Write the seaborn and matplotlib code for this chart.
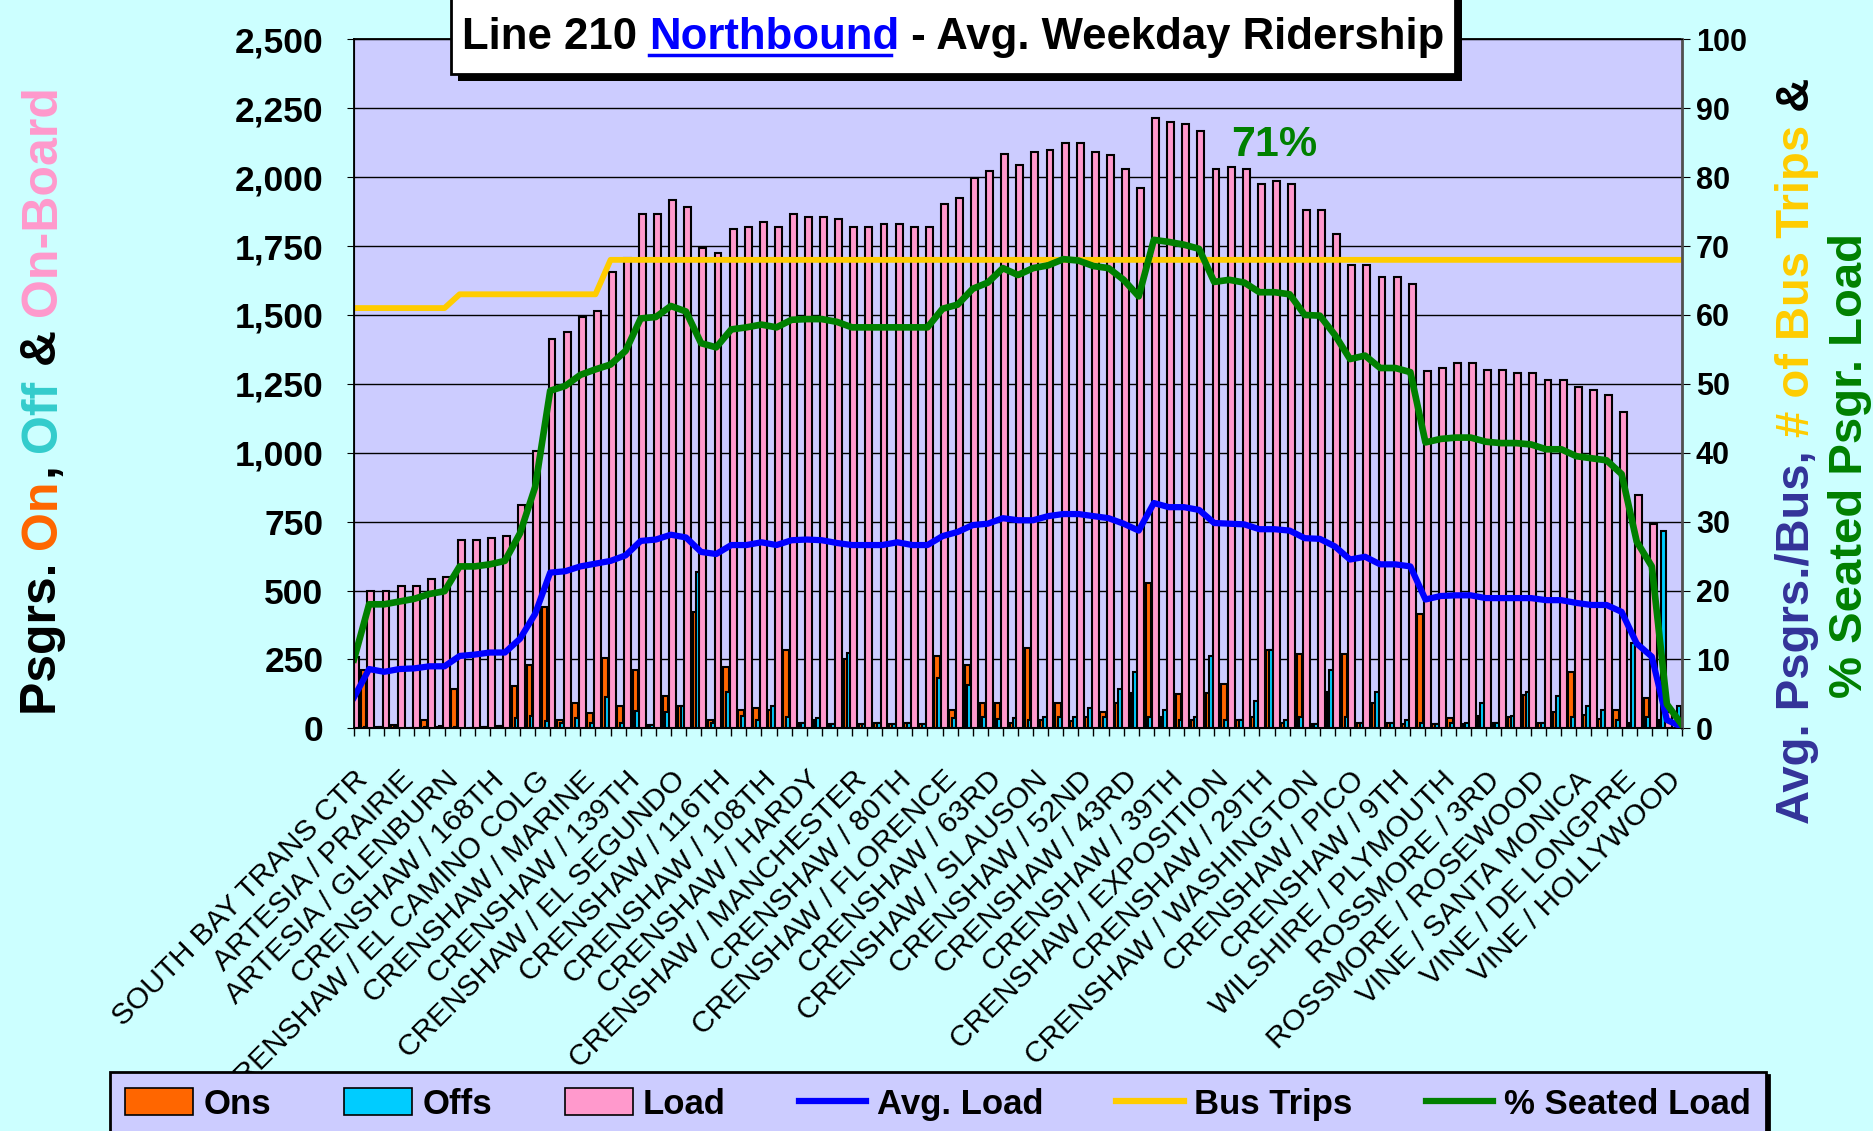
import numpy as np
import matplotlib
matplotlib.use("Agg")
import matplotlib.pyplot as plt
import seaborn as sns
from matplotlib.patches import Patch, Rectangle
from matplotlib.lines import Line2D

plt.rcParams['font.family'] = ['Liberation Sans', 'DejaVu Sans']

# ---- data (89 stops, every 3rd stop labelled) ----
stop_labels = ["SOUTH BAY TRANS CTR", "ARTESIA / PRAIRIE", "ARTESIA / GLENBURN",
               "CRENSHAW / 168TH", "CRENSHAW / EL CAMINO COLG", "CRENSHAW / MARINE",
               "CRENSHAW / 139TH", "CRENSHAW / EL SEGUNDO", "CRENSHAW / 116TH",
               "CRENSHAW / 108TH", "CRENSHAW / HARDY", "CRENSHAW / MANCHESTER",
               "CRENSHAW / 80TH", "CRENSHAW / FLORENCE", "CRENSHAW / 63RD",
               "CRENSHAW / SLAUSON", "CRENSHAW / 52ND", "CRENSHAW / 43RD",
               "CRENSHAW / 39TH", "CRENSHAW / EXPOSITION", "CRENSHAW / 29TH",
               "CRENSHAW / WASHINGTON", "CRENSHAW / PICO", "CRENSHAW / 9TH",
               "WILSHIRE / PLYMOUTH", "ROSSMORE / 3RD", "ROSSMORE / ROSEWOOD",
               "VINE / SANTA MONICA", "VINE / DE LONGPRE", "VINE / HOLLYWOOD"]

ons = [260, 213, 5, 13, 0, 30, 5, 141, 0, 5,
       10, 152, 230, 440, 30, 92, 57, 254, 82, 212,
       13, 116, 82, 423, 30, 221, 66, 75, 67, 284,
       20, 30, 15, 251, 15, 20, 15, 20, 15, 264,
       66, 230, 92, 92, 20, 292, 30, 92, 25, 40,
       60, 90, 128, 526, 40, 125, 30, 128, 161, 30,
       40, 284, 20, 270, 15, 130, 270, 20, 90, 20,
       15, 415, 15, 38, 15, 45, 20, 40, 120, 20,
       60, 205, 50, 35, 66, 20, 110, 30, 0]

offs = [0, 5, 5, 5, 0, 5, 10, 5, 0, 5,
        10, 38, 46, 26, 20, 38, 20, 115, 19, 61,
        11, 60, 82, 568, 20, 133, 46, 30, 82, 40,
        20, 38, 15, 272, 15, 20, 15, 20, 15, 182,
        38, 157, 40, 34, 38, 30, 40, 40, 40, 75,
        40, 141, 205, 40, 66, 30, 40, 264, 30, 30,
        100, 284, 30, 40, 15, 213, 40, 20, 133, 20,
        30, 20, 15, 20, 20, 92, 20, 46, 133, 20,
        116, 40, 82, 66, 30, 310, 40, 715, 82]

load = [260, 497, 497, 516, 516, 543, 549, 682, 682, 690,
        698, 811, 1005, 1411, 1439, 1493, 1516, 1656, 1706, 1866,
        1866, 1918, 1890, 1743, 1726, 1813, 1821, 1838, 1821, 1866,
        1857, 1857, 1849, 1821, 1821, 1829, 1829, 1821, 1821, 1902,
        1926, 1997, 2021, 2083, 2046, 2090, 2098, 2125, 2125, 2090,
        2082, 2029, 1959, 2213, 2202, 2193, 2169, 2029, 2037, 2029,
        1975, 1985, 1975, 1882, 1882, 1792, 1680, 1680, 1636, 1636,
        1611, 1297, 1308, 1324, 1325, 1300, 1300, 1288, 1288, 1264,
        1264, 1238, 1229, 1210, 1149, 846, 743, 60, 0]

avg_load = [4.5, 8.6, 8.2, 8.6, 8.7, 9.0, 9.0, 10.5, 10.7, 11.0,
            11.0, 13.0, 16.6, 22.6, 22.8, 23.5, 23.9, 24.3, 25.1, 27.2,
            27.4, 28.1, 27.7, 25.6, 25.3, 26.6, 26.6, 27.0, 26.6, 27.3,
            27.4, 27.3, 26.9, 26.6, 26.6, 26.6, 27.0, 26.6, 26.6, 27.9,
            28.5, 29.5, 29.7, 30.5, 30.2, 30.2, 30.8, 31.1, 31.1, 30.8,
            30.5, 29.7, 28.7, 32.7, 32.1, 32.1, 31.7, 29.8, 29.7, 29.6,
            28.9, 28.9, 28.7, 27.6, 27.5, 26.4, 24.5, 24.9, 23.8, 23.8,
            23.5, 18.7, 19.2, 19.3, 19.3, 18.9, 18.9, 18.9, 18.9, 18.6,
            18.6, 18.2, 17.9, 17.9, 16.9, 12.3, 10.4, 1.2, 0.2]

bus_trips = [61, 61, 61, 61, 61, 61, 61, 63, 63, 63,
             63, 63, 63, 63, 63, 63, 63, 68, 68, 68,
             68, 68, 68, 68, 68, 68, 68, 68, 68, 68,
             68, 68, 68, 68, 68, 68, 68, 68, 68, 68,
             68, 68, 68, 68, 68, 68, 68, 68, 68, 68,
             68, 68, 68, 68, 68, 68, 68, 68, 68, 68,
             68, 68, 68, 68, 68, 68, 68, 68, 68, 68,
             68, 68, 68, 68, 68, 68, 68, 68, 68, 68,
             68, 68, 68, 68, 68, 68, 68, 68, 68]

seated_pct = [10.0, 18.0, 18.0, 18.4, 18.8, 19.5, 19.9, 23.5, 23.5, 23.8,
              24.3, 28.3, 35.0, 49.0, 49.7, 51.3, 52.1, 52.8, 54.8, 59.5,
              59.7, 61.3, 60.5, 55.9, 55.3, 57.9, 58.2, 58.6, 58.2, 59.3,
              59.4, 59.4, 59.0, 58.2, 58.2, 58.2, 58.2, 58.2, 58.2, 60.9,
              61.5, 63.8, 64.7, 66.8, 65.8, 66.8, 67.2, 68.1, 67.9, 67.1,
              66.8, 65.1, 62.7, 70.9, 70.6, 70.2, 69.6, 64.8, 65.1, 64.7,
              63.3, 63.3, 63.0, 60.0, 59.9, 57.1, 53.6, 54.1, 52.3, 52.3,
              51.7, 41.5, 42.0, 42.2, 42.2, 41.6, 41.4, 41.4, 41.2, 40.5,
              40.5, 39.5, 39.2, 38.9, 36.9, 27.1, 23.5, 3.5, 0.5]

ORANGE, CYAN, PINK = '#FF6600', '#00CCFF', '#FF99CC'
BLUE, GOLD, GREEN = '#0000FF', '#FFCC00', '#008000'

W, H = 1873, 1131
fig = plt.figure(figsize=(W / 100, H / 100), dpi=100, facecolor='#CCFFFF')
ax = fig.add_axes([354 / W, 1 - 728.3 / H, (1682 - 354) / W, (728.3 - 39.4) / H])
ax.set_facecolor('#CCCCFF')
ax.set_axisbelow(True)
ax.yaxis.grid(True, color='black', lw=1)

stops = np.arange(len(load))

# clustered bars: ons / offs overlap, load right next to them
sns.barplot(x=stops - 0.36, y=ons, native_scale=True, width=0.36, color=ORANGE,
            saturation=1, edgecolor='black', linewidth=1.5, errorbar=None, orient='x', ax=ax)
sns.barplot(x=stops - 0.22, y=offs, native_scale=True, width=0.28, color=CYAN,
            saturation=1, edgecolor='black', linewidth=1.5, errorbar=None, orient='x', ax=ax)
sns.barplot(x=stops + 0.12, y=load, native_scale=True, width=0.46, color=PINK,
            saturation=1, edgecolor='black', linewidth=1.5, errorbar=None, orient='x', ax=ax)

ax.set_xlim(0, len(load) - 1)
ax.set_ylim(0, 2500)
yv = np.arange(0, 2501, 250)
ax.set_yticks(yv, labels=[f'{v:,}' for v in yv], fontsize=25.5, fontweight='bold')
ax.set_xticks(stops[::3], labels=stop_labels, rotation=45, ha='right', va='top',
              rotation_mode='anchor', fontsize=21.5)
ax.set_xticks(stops, minor=True)
ax.tick_params(axis='x', which='both', length=6, width=1, pad=21)
ax.tick_params(axis='y', length=5, pad=17)
ax.set_xlabel('')
ax.set_ylabel('')
for side in ['left', 'bottom', 'top']:
    ax.spines[side].set_color('black')
    ax.spines[side].set_linewidth(1.3)

ax2 = ax.twinx()
sns.lineplot(x=stops, y=bus_trips, color=GOLD, lw=4.2, errorbar=None, ax=ax2)
sns.lineplot(x=stops, y=avg_load, color=BLUE, lw=4.5, errorbar=None, ax=ax2)
sns.lineplot(x=stops, y=seated_pct, color=GREEN, lw=4.8, errorbar=None, ax=ax2)
for ln in ax2.lines:
    ln.set_solid_joinstyle('round')
ax2.set_ylim(0, 100)
ax2.set_xlim(0, len(load) - 1)
ax2.set_yticks(np.arange(0, 101, 10), labels=[str(v) for v in range(0, 101, 10)],
               fontsize=22, fontweight='bold')
ax2.tick_params(axis='y', length=6, pad=4)
ax2.set_ylabel('')
ax2.spines['right'].set_color('#505050')
ax2.spines['right'].set_linewidth(2)
ax2.text(61, 84.7, '71%', color=GREEN, fontsize=31, fontweight='bold', ha='center', va='center')

# ---- multicolour texts ----
renderer = fig.canvas.get_renderer()


def piece_offsets(pieces, size):
    def ink(s):
        t = fig.text(0, 0, s, fontsize=size, fontweight='bold')
        w = t.get_window_extent(renderer).width
        t.remove()
        return w
    bar = ink('|')
    offsets, pre = [], ''
    for s, c in pieces:
        offsets.append(ink(pre + '|') - bar if pre else 0.0)
        pre += s
    return offsets, ink(pre)


def vertical_label(pieces, x_px, yc_px, size):
    offsets, total = piece_offsets(pieces, size)
    y0 = (H - yc_px) - total / 2
    for (s, c), o in zip(pieces, offsets):
        fig.text(x_px / W, (y0 + o) / H, s, color=c, fontsize=size, fontweight='bold',
                 rotation=90, rotation_mode='anchor', ha='left', va='baseline')


vertical_label([("Psgrs. ", 'black'), ("On", ORANGE), (", ", 'black'), ("Off", '#33CCCC'),
                (" & ", 'black'), ("On-Board", PINK)], 56, 400, 36)
vertical_label([("Avg. Psgrs./Bus, ", '#333399'), ("# of Bus Trips", GOLD), (" &", 'black')],
               1809, 451, 34)
vertical_label([("% Seated Psgr. Load", GREEN)], 1862, 466, 34)

# title box with shadow
fig.add_artist(Rectangle((458 / W, 1 - 81 / H), (1462 - 458) / W, 81 / H + 0.02,
                         transform=fig.transFigure, facecolor='black', edgecolor='none'))
fig.add_artist(Rectangle((451 / W, 1 - 74 / H), (1455 - 451) / W, 74 / H + 0.02,
                         transform=fig.transFigure, facecolor='white', edgecolor='black', lw=2))
title_pieces = [("Line 210 ", 'black'), ("Northbound", BLUE), (" - Avg. Weekday Ridership", 'black')]
t_off, t_total = piece_offsets(title_pieces, 31.5)
x0 = 953 - t_total / 2
for (s, c), o in zip(title_pieces, t_off):
    fig.text((x0 + o) / W, 1 - 49 / H, s, color=c, fontsize=31.5, fontweight='bold',
             ha='left', va='baseline')
fig.add_artist(Line2D([(x0 + t_off[1]) / W, (x0 + t_off[2] - 8) / W], [1 - 55 / H, 1 - 55 / H],
                      transform=fig.transFigure, color=BLUE, lw=2.5))

# legend
handles = [Patch(facecolor=ORANGE, edgecolor='black', lw=1.2, label='Ons'),
           Patch(facecolor=CYAN, edgecolor='black', lw=1.2, label='Offs'),
           Patch(facecolor=PINK, edgecolor='black', lw=1.2, label='Load'),
           Line2D([], [], color=BLUE, lw=4.5, label='Avg. Load'),
           Line2D([], [], color=GOLD, lw=4.5, label='Bus Trips'),
           Line2D([], [], color=GREEN, lw=4.5, label='% Seated Load')]
leg = fig.legend(handles=handles, loc='upper center', bbox_to_anchor=(938 / W, 1 - 1072 / H),
                 ncol=6, frameon=True, fancybox=False, facecolor='#CCCCFF', edgecolor='black',
                 framealpha=1, prop={'weight': 'bold', 'size': 25}, handlelength=1.95,
                 handleheight=0.8, handletextpad=0.3, columnspacing=2.1, borderpad=0.45,
                 borderaxespad=0, shadow={'color': 'black', 'alpha': 1})
leg.get_frame().set_linewidth(2)

fig.savefig('out.png', dpi=100, facecolor=fig.get_facecolor())
